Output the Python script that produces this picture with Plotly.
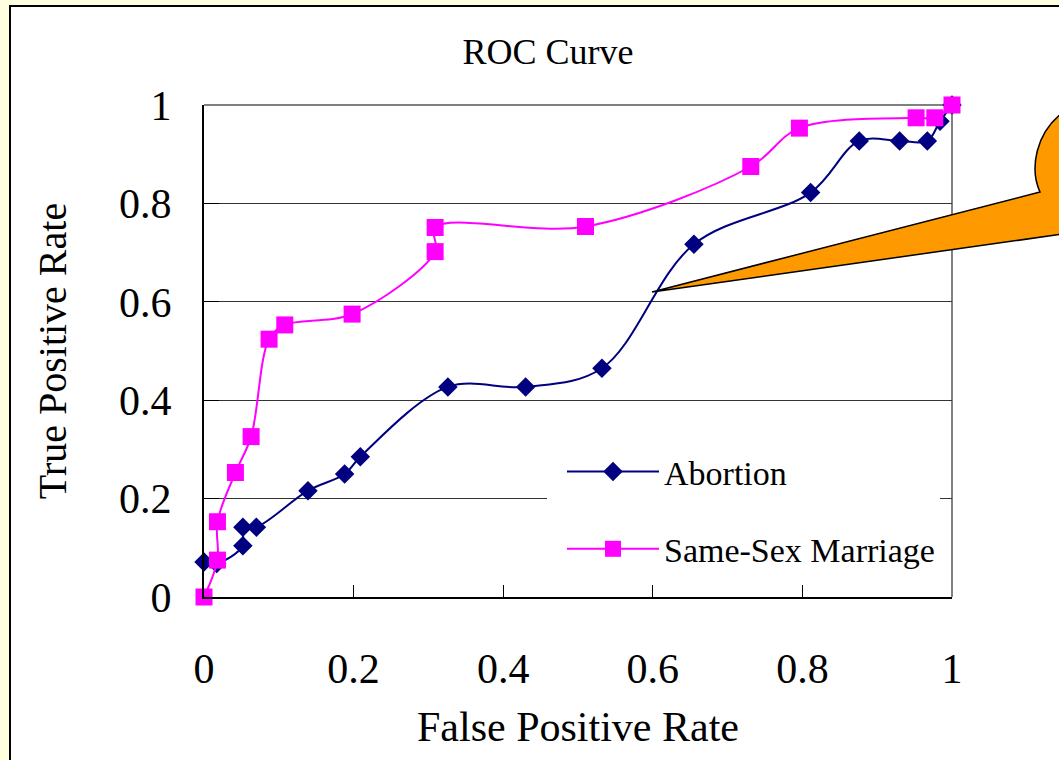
import plotly.graph_objects as go

# ---- data ----
abortion_fpr = [0.0, 0.017, 0.052, 0.052, 0.07, 0.139, 0.188, 0.209, 0.326, 0.43,
                0.532, 0.655, 0.811, 0.876, 0.93, 0.967, 0.984, 1.0]
abortion_tpr = [0.071, 0.068, 0.104, 0.142, 0.142, 0.216, 0.25, 0.285, 0.427, 0.427,
                0.465, 0.717, 0.822, 0.927, 0.927, 0.927, 0.967, 1.0]
ssm_fpr = [0.0, 0.018, 0.018, 0.042, 0.063, 0.087, 0.108, 0.198, 0.309, 0.309,
           0.51, 0.731, 0.796, 0.952, 0.977, 1.0]
ssm_tpr = [0.0, 0.075, 0.153, 0.253, 0.326, 0.524, 0.553, 0.575, 0.702, 0.751,
           0.753, 0.875, 0.953, 0.974, 0.974, 1.0]
tick_vals = [0, 0.2, 0.4, 0.6, 0.8, 1]
tick_text = ["0", "0.2", "0.4", "0.6", "0.8", "1"]

SERIF = "Liberation Serif, Times New Roman, serif"

# plot-area pixel geometry (for decorative shapes in paper coords)
L, R, T, B = 204, 952, 105, 597
W, H = 1059, 760


def px(x):
    return (x - L) / (R - L)


def py(y):
    return (B - y) / (B - T)


fig = go.Figure()
fig.add_trace(go.Scatter(
    x=abortion_fpr, y=abortion_tpr, name="Abortion", mode="lines+markers",
    line=dict(color="#000080", width=2, shape="spline", smoothing=1),
    marker=dict(symbol="diamond", size=15, color="#000080"),
    cliponaxis=False, legendgroup="a"))
fig.add_trace(go.Scatter(
    x=ssm_fpr, y=ssm_tpr, name="Same-Sex Marriage", mode="lines+markers",
    line=dict(color="#FF00FF", width=2, shape="spline", smoothing=1),
    marker=dict(symbol="square", size=17, color="#FF00FF"),
    cliponaxis=False, legendgroup="b"))

shapes = [
    # white slide panel with black border
    dict(type="rect", xref="paper", yref="paper", layer="below",
         x0=px(10), x1=px(1090), y0=py(6), y1=py(790),
         fillcolor="white", line=dict(color="black", width=2)),
    # grey top and right frame lines of the plot area
    dict(type="line", xref="paper", yref="paper", layer="below",
         x0=0, x1=1, y0=1, y1=1, line=dict(color="#808080", width=2)),
    dict(type="line", xref="paper", yref="paper", layer="below",
         x0=1, x1=1, y0=0, y1=1, line=dict(color="#808080", width=2)),
    # left padding of the white legend box (hides the grid line there)
    dict(type="rect", xref="paper", yref="paper", layer="above",
         x0=px(547), x1=px(563), y0=py(443), y1=py(588),
         fillcolor="white", line=dict(width=0)),
    # orange callout bubble (partly off the slide)
    dict(type="path", xref="paper", yref="paper", layer="above",
         path=(f"M {px(652)},{py(292)} L {px(1040)},{py(192)} "
               f"C {px(1030)},{py(170)} {px(1034)},{py(132)} {px(1066)},{py(110)} "
               f"L {px(1120)},{py(90)} L {px(1120)},{py(240)} "
               f"L {px(1070)},{py(233)} Z"),
         fillcolor="#FF9900", line=dict(color="black", width=1.5)),
]

fig.update_layout(
    width=W, height=H,
    margin=dict(l=L, r=W - R, t=T, b=H - B),
    paper_bgcolor="#FFFFE0",
    plot_bgcolor="rgba(0,0,0,0)",
    font=dict(family=SERIF, color="black"),
    title=dict(text="ROC Curve", font=dict(family=SERIF, size=36, color="black"),
               x=px(548), xref="paper", xanchor="center",
               y=1 - 51 / H, yref="container", yanchor="middle"),
    showlegend=True,
    legend=dict(x=px(562), y=py(443), xanchor="left", yanchor="top",
                bgcolor="white", borderwidth=0,
                font=dict(family=SERIF, size=34, color="black"),
                itemwidth=92, traceorder="grouped", tracegroupgap=30),
    shapes=shapes,
    xaxis=dict(range=[0, 1], tickvals=tick_vals, ticktext=tick_text,
               showgrid=False, zeroline=False,
               showline=True, linecolor="black", linewidth=2,
               ticks="inside", ticklen=12, tickcolor="black", tickwidth=1,
               tickfont=dict(family=SERIF, size=42, color="black"),
               ticklabelstandoff=34,
               title=dict(text="False Positive Rate", standoff=20,
                          font=dict(family=SERIF, size=42, color="black"))),
    yaxis=dict(range=[0, 1], tickvals=tick_vals, ticktext=tick_text,
               showgrid=True, gridcolor="#333333", gridwidth=1, zeroline=False,
               showline=True, linecolor="black", linewidth=2,
               ticks="inside", ticklen=15, tickcolor="black", tickwidth=1,
               tickfont=dict(family=SERIF, size=42, color="black"),
               ticklabelstandoff=22,
               title=dict(text="True Positive Rate", standoff=40,
                          font=dict(family=SERIF, size=40, color="black"))),
)

fig.write_html("out.html", config={"displayModeBar": False},
               post_script="document.body.style.margin='0';")
